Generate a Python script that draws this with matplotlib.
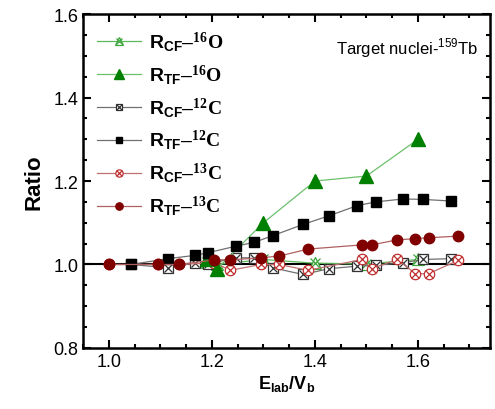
import matplotlib

matplotlib.use("Agg")
import matplotlib.pyplot as plt
from matplotlib.legend_handler import HandlerTuple
from matplotlib.ticker import MultipleLocator, FormatStrFormatter

plt.rcParams["font.family"] = ["Liberation Sans", "DejaVu Sans"]
plt.rcParams["mathtext.fontset"] = "custom"
plt.rcParams["mathtext.rm"] = "Liberation Sans"
plt.rcParams["mathtext.sf"] = "Liberation Sans:bold"
plt.rcParams["mathtext.bf"] = "Liberation Serif:bold"

# ── data ──────────────────────────────────────────────────────────────────────
e_16o = [1.19, 1.21, 1.30, 1.40, 1.50, 1.60]
r_cf_16o = [1.005, 1.000, 1.012, 1.003, 1.001, 1.012]
r_tf_16o = [1.013, 0.990, 1.100, 1.200, 1.212, 1.300]

e_12c = [1.043, 1.115, 1.168, 1.192, 1.247, 1.282, 1.318, 1.377, 1.428,
         1.482, 1.518, 1.571, 1.610, 1.665]
r_cf_12c = [1.000, 0.992, 1.004, 1.002, 1.016, 1.016, 0.992, 0.976, 0.990,
            0.996, 0.998, 1.004, 1.012, 1.014]
r_tf_12c = [1.000, 1.014, 1.022, 1.028, 1.044, 1.053, 1.069, 1.096, 1.117,
            1.141, 1.150, 1.157, 1.156, 1.152]

e_13c = [1.000, 1.096, 1.136, 1.205, 1.236, 1.295, 1.330, 1.387, 1.492,
         1.510, 1.560, 1.595, 1.621, 1.678]
r_cf_13c = [1.000, 1.000, 1.000, 1.004, 0.986, 1.000, 1.000, 0.986, 1.012,
            0.990, 1.012, 0.978, 0.978, 1.010]
r_tf_13c = [1.000, 1.000, 1.000, 1.011, 1.011, 1.016, 1.020, 1.037, 1.047,
            1.047, 1.059, 1.062, 1.064, 1.068]

labels = [
    r"$\mathsf{R_{CF}}$–$\mathbf{^{16}O}$",
    r"$\mathsf{R_{TF}}$–$\mathbf{^{16}O}$",
    r"$\mathsf{R_{CF}}$–$\mathbf{^{12}C}$",
    r"$\mathsf{R_{TF}}$–$\mathbf{^{12}C}$",
    r"$\mathsf{R_{CF}}$–$\mathbf{^{13}C}$",
    r"$\mathsf{R_{TF}}$–$\mathbf{^{13}C}$",
]

# ── plotting ──────────────────────────────────────────────────────────────────
fig = plt.figure(figsize=(4.95, 4.10), dpi=100)
ax = fig.add_axes([0.168, 0.149, 0.822, 0.814])

ax.axhline(1.0, color="black", lw=1.5, zorder=1)


def cf_series(x, y, line_c, mark_c, marker, ms):
  (base,) = ax.plot(x, y, color=line_c, lw=0.9, marker=marker, ms=ms,
                    mfc="white", mec=mark_c, mew=0.9, zorder=3)
  (cross,) = ax.plot(x, y, ls="none", marker="x", ms=ms * 0.8,
                     mec=mark_c, mew=0.9, zorder=3)
  return (base, cross)


def tf_series(x, y, line_c, mark_c, marker, ms):
  (line,) = ax.plot(x, y, color=line_c, lw=0.9, marker=marker, ms=ms,
                    mfc=mark_c, mec=mark_c, zorder=4)
  return (line,)


handles = [
    cf_series(e_16o, r_cf_16o, "#5cb85c", "#3aa53a", "^", 8.5),
    tf_series(e_16o, r_tf_16o, "#6cc06c", "#008000", "^", 9.5),
    cf_series(e_12c, r_cf_12c, "#707070", "#303030", "s", 7),
    tf_series(e_12c, r_tf_12c, "#707070", "black", "s", 7),
    cf_series(e_13c, r_cf_13c, "#c07070", "#c03030", "o", 7.5),
    tf_series(e_13c, r_tf_13c, "#b06060", "#800000", "o", 7.5),
]

ax.legend(handles, labels, loc="upper left", frameon=False, fontsize=14,
          handler_map={tuple: HandlerTuple(ndivide=1)}, markerscale=0.7,
          handlelength=2.3, handletextpad=0.4, labelspacing=0.45,
          borderaxespad=0.3, bbox_to_anchor=(0.0, 0.995))

ax.text(0.97, 0.90, r"Target nuclei-$^{159}$Tb", transform=ax.transAxes,
        ha="right", va="center", fontsize=12)

ax.set_xlim(0.95, 1.74)
ax.set_ylim(0.8, 1.6)
ax.xaxis.set_major_locator(MultipleLocator(0.2))
ax.xaxis.set_minor_locator(MultipleLocator(0.05))
ax.yaxis.set_major_locator(MultipleLocator(0.2))
ax.yaxis.set_minor_locator(MultipleLocator(0.05))
ax.tick_params(which="both", direction="in", top=True, right=True,
               labelsize=13, width=1.5)
ax.tick_params(which="major", length=6)
ax.tick_params(which="minor", length=3)
ax.xaxis.set_major_formatter(FormatStrFormatter("%.1f"))
ax.yaxis.set_major_formatter(FormatStrFormatter("%.1f"))
for s in ax.spines.values():
  s.set_linewidth(1.8)

ax.set_xlabel(r"E$_{\mathsf{lab}}$/V$_{\mathsf{b}}$", fontsize=13,
              fontweight="bold", labelpad=2)
ax.set_ylabel("Ratio", fontsize=16, fontweight="bold", labelpad=6)

fig.savefig("out.png", dpi=100)
